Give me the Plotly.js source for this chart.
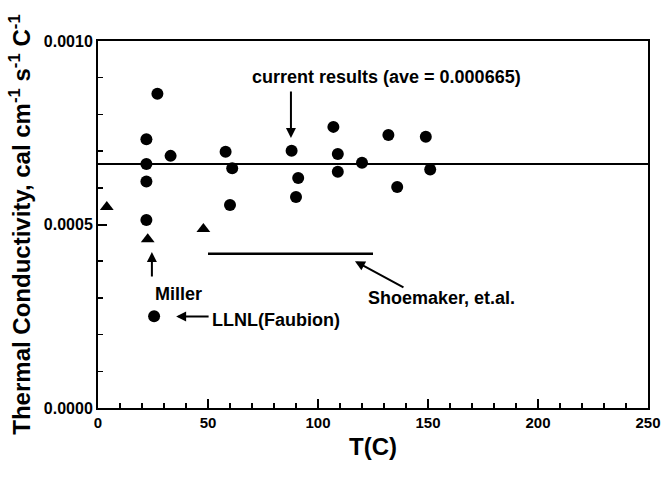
<!DOCTYPE html>
<html>
<head>
<meta charset="utf-8">
<script src="https://cdn.plot.ly/plotly-3.0.1.min.js"></script>
<style>html,body{margin:0;padding:0;background:#fff;}#chart{width:671px;height:477px;}</style>
</head>
<body>
<div id="chart"></div>
<script>
// Current results (circles)
const currentT = [22, 22, 22, 22, 27, 33, 58, 61, 60, 88, 91, 90, 107, 109, 109, 120, 132, 136, 149, 151];
const currentK = [0.000732, 0.000665, 0.000617, 0.000512, 0.000856, 0.000687, 0.000698, 0.000653, 0.000553, 0.000701, 0.000627, 0.000575, 0.000766, 0.000692, 0.000644, 0.000668, 0.000744, 0.000602, 0.000739, 0.000650];
// Miller (triangles)
const millerT = [4, 22.6, 47.9];
const millerK = [0.000548, 0.000460, 0.000488];
// LLNL (Faubion)
const llnlT = [25.5];
const llnlK = [0.000250];
// Shoemaker, et.al.
const shoemakerT = [50, 125];
const shoemakerK = [0.000420, 0.000420];
// Average of current results
const aveT = [0, 250];
const aveValue = 0.000665;
const aveK = [aveValue, aveValue];

const xTicks = [0, 50, 100, 150, 200, 250];
const yTicks = [0.0000, 0.0005, 0.0010];

const font = "Liberation Sans, Arial, sans-serif";

const traces = [
  {x: aveT, y: aveK, mode: 'lines', line: {color: '#000', width: 2}, hoverinfo: 'skip'},
  {x: shoemakerT, y: shoemakerK, mode: 'lines', line: {color: '#000', width: 2.5}},
  {x: currentT, y: currentK, mode: 'markers', marker: {symbol: 'circle', size: 12, color: '#000'}},
  {x: millerT, y: millerK, mode: 'markers', marker: {symbol: 'triangle-up', size: 12, color: '#000'}},
  {x: llnlT, y: llnlK, mode: 'markers', marker: {symbol: 'circle', size: 12, color: '#000'}}
];

const annFont = {family: font, size: 18, color: '#000', weight: 'bold'};
const layout = {
  width: 671, height: 477,
  margin: {l: 98, r: 23, t: 41, b: 69},
  paper_bgcolor: '#fff', plot_bgcolor: '#fff',
  showlegend: false,
  font: {family: font, color: '#000'},
  xaxis: {
    range: [0, 250], tickvals: xTicks, ticktext: xTicks.map(String),
    ticks: 'inside', ticklen: 9, tickwidth: 2, tickcolor: '#000',
    minor: {dtick: 10, ticks: 'inside', ticklen: 5, tickwidth: 1.5, tickcolor: '#000', showgrid: false},
    showline: true, linecolor: '#000', linewidth: 2, mirror: true,
    showgrid: false, zeroline: false,
    tickfont: {family: font, size: 15, color: '#000', weight: 'bold'},
    title: {text: 'T(C)', font: {family: font, size: 24, color: '#000', weight: 'bold'}, standoff: 8}
  },
  yaxis: {
    range: [0, 0.001], tickvals: yTicks, ticktext: yTicks.map(v => v.toFixed(4)),
    ticks: 'inside', ticklen: 9, tickwidth: 2, tickcolor: '#000',
    minor: {dtick: 0.0001, ticks: 'inside', ticklen: 5, tickwidth: 1.5, tickcolor: '#000', showgrid: false},
    showline: true, linecolor: '#000', linewidth: 2, mirror: true,
    showgrid: false, zeroline: false,
    tickfont: {family: font, size: 16, color: '#000', weight: 'bold'},
    title: {text: 'Thermal Conductivity, cal cm<sup>-1</sup> s<sup>-1</sup> C<sup>-1</sup>', font: {family: font, size: 24, color: '#000', weight: 'bold'}, standoff: 6}
  },
  annotations: [
    {x: 87.7, y: 0.000736, xref: 'x', yref: 'y', ax: 0, ay: -48, showarrow: true, arrowhead: 2, arrowsize: 1, arrowwidth: 2, arrowcolor: '#000', text: ''},
    {x: 131, y: 0.000902, xref: 'x', yref: 'y', showarrow: false, text: 'current results (ave = 0.000665)', font: annFont},
    {x: 24.5, y: 0.000425, xref: 'x', yref: 'y', ax: 0, ay: 26, showarrow: true, arrowhead: 2, arrowsize: 1, arrowwidth: 2, arrowcolor: '#000', text: ''},
    {x: 36.4, y: 0.000311, xref: 'x', yref: 'y', showarrow: false, text: 'Miller', font: annFont},
    {x: 35.5, y: 0.000249, xref: 'x', yref: 'y', ax: 34, ay: 0, showarrow: true, arrowhead: 2, arrowsize: 1, arrowwidth: 2, arrowcolor: '#000', text: ''},
    {x: 50.9, y: 0.000240, xref: 'x', yref: 'y', xanchor: 'left', showarrow: false, text: 'LLNL(Faubion)', font: annFont},
    {x: 116.8, y: 0.000400, xref: 'x', yref: 'y', ax: 50, ay: 27, showarrow: true, arrowhead: 2, arrowsize: 1, arrowwidth: 2, arrowcolor: '#000', text: ''},
    {x: 156, y: 0.000300, xref: 'x', yref: 'y', showarrow: false, text: 'Shoemaker, et.al.', font: annFont}
  ]
};

Plotly.newPlot('chart', traces, layout, {displayModeBar: false, staticPlot: true});
</script>
</body>
</html>
